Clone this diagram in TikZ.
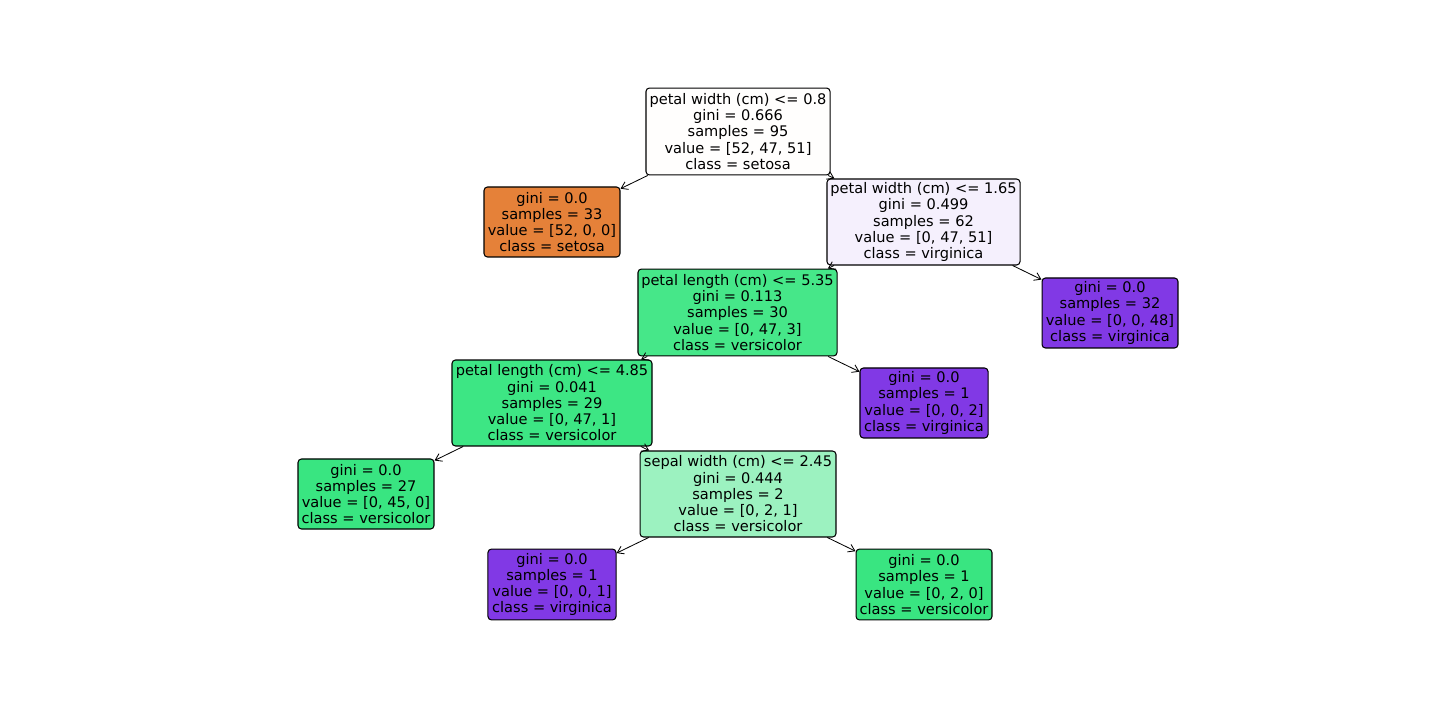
\documentclass[tikz,border=0pt]{standalone}
\usepackage{fontspec}
\setmainfont{DejaVu Sans}
\usetikzlibrary{arrows.meta}
\definecolor{cRoot}{RGB}{255,254,253}
\definecolor{cSetosa}{RGB}{229,129,57}
\definecolor{cNodeTwo}{RGB}{245,240,253}
\definecolor{cVirg}{RGB}{129,57,229}
\definecolor{cVersA}{RGB}{70,231,137}
\definecolor{cVersB}{RGB}{61,230,132}
\definecolor{cVers}{RGB}{57,229,129}
\definecolor{cSepal}{RGB}{156,242,192}
\tikzset{
  treebox/.style={draw=black, line width=0.75pt, rounded corners=2.5pt, inner sep=0pt,
    align=center, font=\fontsize{10.5}{11.7}\selectfont, text=black},
  edge/.style={draw=black, line width=0.6pt, -{Straight Barb[length=4.5pt,width=6pt]}},
}
\begin{document}
\begin{tikzpicture}[x=0.72pt,y=-0.72pt]
\useasboundingbox (0,0) rectangle (1440,720);
\node[treebox, fill=cRoot, minimum width=132.5pt, minimum height=62.6pt] (n0) at (738,131.5)
  {petal width (cm) <= 0.8\\gini = 0.666\\samples = 95\\value = [52, 47, 51]\\class = setosa};
\node[treebox, fill=cSetosa, minimum width=97.9pt, minimum height=50.4pt] (n1) at (552,222)
  {gini = 0.0\\samples = 33\\value = [52, 0, 0]\\class = setosa};
\node[treebox, fill=cNodeTwo, minimum width=139pt, minimum height=61.9pt] (n2) at (923.5,222)
  {petal width (cm) <= 1.65\\gini = 0.499\\samples = 62\\value = [0, 47, 51]\\class = virginica};
\node[treebox, fill=cVirg, minimum width=97.9pt, minimum height=50.4pt] (n3) at (1110,313)
  {gini = 0.0\\samples = 32\\value = [0, 0, 48]\\class = virginica};
\node[treebox, fill=cVersA, minimum width=143.3pt, minimum height=62.6pt] (n4) at (737.5,312.5)
  {petal length (cm) <= 5.35\\gini = 0.113\\samples = 30\\value = [0, 47, 3]\\class = versicolor};
\node[treebox, fill=cVirg, minimum width=92.2pt, minimum height=50.4pt] (n5) at (924,403)
  {gini = 0.0\\samples = 1\\value = [0, 0, 2]\\class = virginica};
\node[treebox, fill=cVersB, minimum width=144pt, minimum height=61.9pt] (n6) at (552,403)
  {petal length (cm) <= 4.85\\gini = 0.041\\samples = 29\\value = [0, 47, 1]\\class = versicolor};
\node[treebox, fill=cVers, minimum width=97.9pt, minimum height=50.4pt] (n7) at (366,494)
  {gini = 0.0\\samples = 27\\value = [0, 45, 0]\\class = versicolor};
\node[treebox, fill=cSepal, minimum width=141.1pt, minimum height=61.9pt] (n8) at (738,494)
  {sepal width (cm) <= 2.45\\gini = 0.444\\samples = 2\\value = [0, 2, 1]\\class = versicolor};
\node[treebox, fill=cVirg, minimum width=92.2pt, minimum height=51pt] (n9) at (552,584.5)
  {gini = 0.0\\samples = 1\\value = [0, 0, 1]\\class = virginica};
\node[treebox, fill=cVers, minimum width=97.9pt, minimum height=51pt] (n10) at (924,584.5)
  {gini = 0.0\\samples = 1\\value = [0, 2, 0]\\class = versicolor};
\path[edge] (n0) -- (n1);
\path[edge] (n0) -- (n2);
\path[edge] (n2) -- (n4);
\path[edge] (n2) -- (n3);
\path[edge] (n4) -- (n6);
\path[edge] (n4) -- (n5);
\path[edge] (n6) -- (n7);
\path[edge] (n6) -- (n8);
\path[edge] (n8) -- (n9);
\path[edge] (n8) -- (n10);
\end{tikzpicture}
\end{document}
